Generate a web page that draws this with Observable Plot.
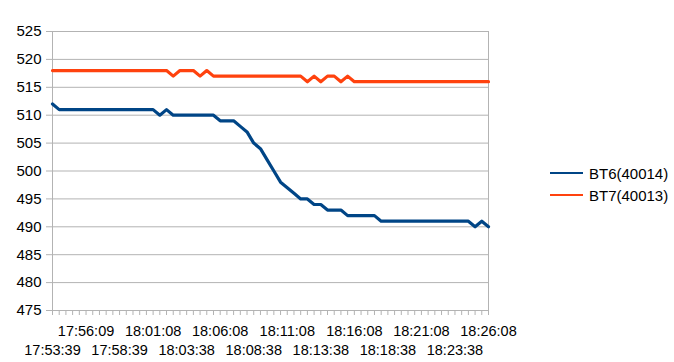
<!DOCTYPE html>
<html>
<head>
<meta charset="utf-8">
<script src="https://cdn.jsdelivr.net/npm/d3@7"></script>
<script src="https://cdn.jsdelivr.net/npm/@observablehq/plot@0.6"></script>
<style>
  html, body { margin: 0; padding: 0; background: #fff; }
  #wrap { position: relative; width: 674px; height: 362px; font-family: "Liberation Sans", Arial, sans-serif; }
  #legend { position: absolute; left: 550px; top: 162px; font-size: 15px; color: #000; }
  .item { display: flex; align-items: center; height: 22px; }
  .swatch { width: 33px; height: 2px; margin-right: 6px; }
</style>
</head>
<body>
<div id="wrap"><div id="legend"></div></div>
<script>
// Every 5th category label (points are every ~30 s)
const timeLabels = ["17:53:39","17:56:09","17:58:39","18:01:08","18:03:38","18:06:08","18:08:38",
                    "18:11:08","18:13:38","18:16:08","18:18:38","18:21:08","18:23:38","18:26:08"];
const seriesNames = ["BT6(40014)", "BT7(40013)"];
const seriesColors = ["#004586", "#ff420e"];
const bt6 = [512,511,511,511,511,511,511,511,511,511,511,511,511,511,511,511,510,511,510,510,
             510,510,510,510,510,509,509,509,508,507,505,504,502,500,498,497,496,495,495,494,
             494,493,493,493,492,492,492,492,492,491,491,491,491,491,491,491,491,491,491,491,
             491,491,491,490,491,490];
const bt7 = [518,518,518,518,518,518,518,518,518,518,518,518,518,518,518,518,518,518,517,518,
             518,518,517,518,517,517,517,517,517,517,517,517,517,517,517,517,517,517,516,517,
             516,517,517,516,517,516,516,516,516,516,516,516,516,516,516,516,516,516,516,516,
             516,516,516,516,516,516];
const yTicks = d3.range(475, 526, 5);

const rows = [];
[bt6, bt7].forEach((vals, s) => vals.forEach((v, i) => rows.push({i, v, series: seriesNames[s]})));
const n = bt6.length;
const labelIdx = timeLabels.map((_, k) => k * 5);
const upperIdx = labelIdx.filter((_, k) => k % 2 === 1);
const lowerIdx = labelIdx.filter((_, k) => k % 2 === 0);
const fmt = i => timeLabels[i / 5];

const chart = Plot.plot({
  width: 674, height: 362,
  marginLeft: 52, marginRight: 186, marginTop: 31, marginBottom: 52,
  style: {fontFamily: '"Liberation Sans", Arial, sans-serif', fontSize: "15px", color: "#000", background: "transparent"},
  x: {domain: [0, n - 1]},
  y: {domain: [475, 525]},
  color: {domain: seriesNames, range: seriesColors},
  marks: [
    Plot.gridY(yTicks, {stroke: "#b3b3b3", strokeOpacity: 1}),
    Plot.ruleX([0, n - 1], {stroke: "#b3b3b3"}),
    Plot.axisY({ticks: yTicks, tickSize: 6, stroke: "#b3b3b3", tickFormat: () => "", label: null}),
    Plot.axisY({ticks: yTicks, tickSize: 0, tickPadding: 11, fill: "#000", label: null, fontSize: 15}),
    Plot.axisX({ticks: d3.range(n), tickSize: 5, stroke: "#b3b3b3", tickFormat: () => "", label: null}),
    Plot.axisX({ticks: upperIdx, tickSize: 0, tickPadding: 15, tickFormat: fmt, fill: "#000", label: null, fontSize: 14.5}),
    Plot.axisX({ticks: lowerIdx, tickSize: 0, tickPadding: 34, tickFormat: fmt, fill: "#000", label: null, fontSize: 14.5}),
    Plot.line(rows, {x: "i", y: "v", z: "series", stroke: "series", strokeWidth: 3.2, strokeLinejoin: "round"})
  ]
});
const wrap = document.getElementById("wrap");
wrap.insertBefore(chart, wrap.firstChild);

const legend = document.getElementById("legend");
seriesNames.forEach((name, s) => {
  const it = document.createElement("div");
  it.className = "item";
  it.innerHTML = `<span class="swatch" style="background:${seriesColors[s]}"></span><span>${name}</span>`;
  legend.appendChild(it);
});
</script>
</body>
</html>
